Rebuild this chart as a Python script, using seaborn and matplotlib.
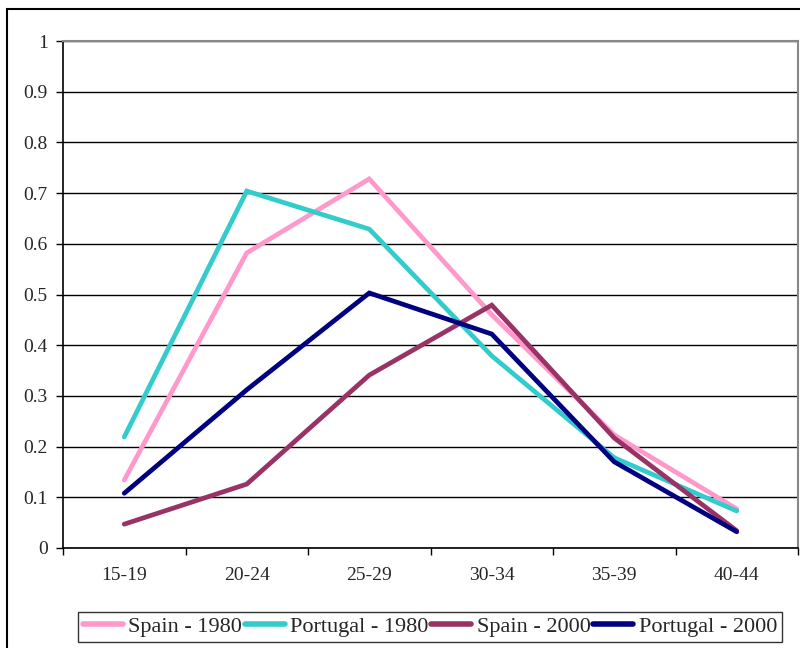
import matplotlib
matplotlib.use("Agg")
import matplotlib.pyplot as plt
import matplotlib.patches as mpatches
import pandas as pd
import seaborn as sns

age_groups = ["15-19", "20-24", "25-29", "30-34", "35-39", "40-44"]
spain_1980 = [0.134, 0.582, 0.728, 0.460, 0.223, 0.077]
portugal_1980 = [0.219, 0.704, 0.629, 0.379, 0.178, 0.073]
spain_2000 = [0.047, 0.126, 0.341, 0.479, 0.217, 0.034]
portugal_2000 = [0.108, 0.312, 0.503, 0.422, 0.170, 0.032]

series_names = ["Spain - 1980", "Portugal - 1980", "Spain - 2000", "Portugal - 2000"]
series_values = [spain_1980, portugal_1980, spain_2000, portugal_2000]
series_colors = ["#FF99CC", "#33CCCC", "#993366", "#000080"]

rows = []
for name, vals in zip(series_names, series_values):
    for i, (grp, v) in enumerate(zip(age_groups, vals)):
        rows.append({"pos": i, "group": grp, "series": name, "value": v})
df = pd.DataFrame(rows)

sns.set_theme(style="white")
plt.rcParams["font.family"] = ["Liberation Serif", "DejaVu Serif"]

W, H = 800, 648
fig = plt.figure(figsize=(W / 100, H / 100), dpi=100)
ax = fig.add_axes([63 / W, 1 - 548 / H, (798 - 63) / W, (548 - 41) / H])

sns.lineplot(data=df, x="pos", y="value", hue="series", hue_order=series_names,
             palette=series_colors, linewidth=3.4, ax=ax, legend=True,
             solid_joinstyle="miter")

ax.set_xlim(-0.5, 5.5)
ax.set_ylim(0, 1)
ax.set_xlabel("")
ax.set_ylabel("")

ax.set_yticks([i / 10 for i in range(11)])
ax.set_yticklabels(["0", "0.1", "0.2", "0.3", "0.4", "0.5", "0.6", "0.7", "0.8", "0.9", "1"])
ax.set_xticks(range(len(age_groups)))
ax.set_xticklabels(age_groups)
ax.set_xticks([i - 0.5 for i in range(len(age_groups) + 1)], minor=True)

ax.tick_params(axis="y", which="major", direction="out", length=5, width=1,
               color="black", labelsize=14, pad=6, left=True)
ax.tick_params(axis="x", which="major", length=0, labelsize=14, pad=14)
ax.tick_params(axis="x", which="minor", direction="out", length=5, width=1,
               color="black", bottom=True)

ax.grid(axis="y", color="black", linewidth=1)
ax.set_axisbelow(True)

for side in ["left", "bottom"]:
    ax.spines[side].set_color("black")
    ax.spines[side].set_linewidth(1.2)
for side in ["top", "right"]:
    ax.spines[side].set_color("#888888")
    ax.spines[side].set_linewidth(1.5)

handles, labels = ax.get_legend_handles_labels()
ax.legend_.remove()
leg = fig.legend(handles, labels, loc="center", ncol=4,
                 bbox_to_anchor=(430 / W, 1 - 627 / H),
                 frameon=True, fancybox=False, fontsize=16,
                 handlelength=1.8, handletextpad=0.25, columnspacing=0.12,
                 borderpad=0.2, borderaxespad=0)
leg.get_frame().set_edgecolor("black")
leg.get_frame().set_linewidth(1)
for line in leg.get_lines():
    line.set_linewidth(4)

# Chart-area border running off the right and bottom edges
fig.patches.append(mpatches.Rectangle((7 / W, -0.1), 1.2, 1 - 9 / H + 0.1,
                                      transform=fig.transFigure, fill=False,
                                      edgecolor="black", linewidth=1.5))

fig.savefig("out.png", dpi=100)
